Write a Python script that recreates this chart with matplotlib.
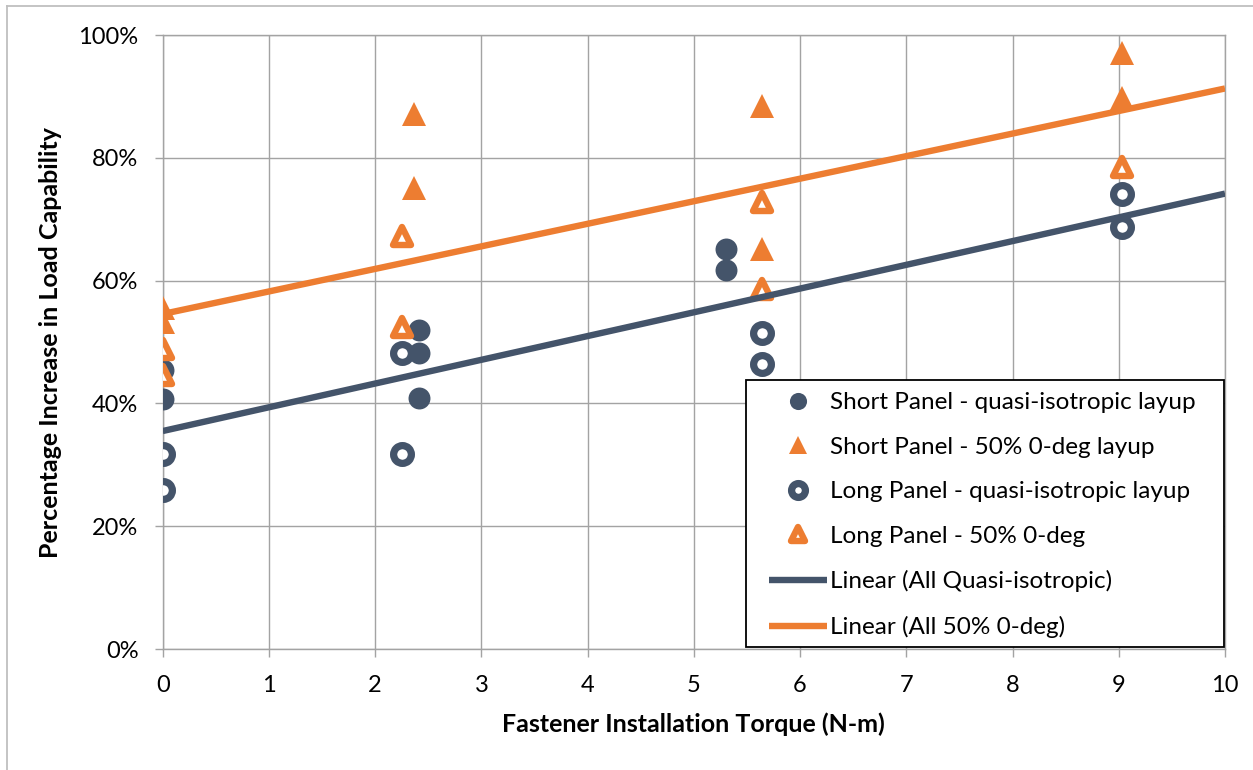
import numpy as np
import matplotlib
matplotlib.use("Agg")
import matplotlib.pyplot as plt
from matplotlib.lines import Line2D
from matplotlib.markers import MarkerStyle
from matplotlib.patches import Rectangle
from matplotlib.legend_handler import HandlerLine2D

# Measured load-capability increase (%) vs. installation torque (N-m)
short_quasi_x = [0, 0, 2.41, 2.41, 2.41, 5.30, 5.30]
short_quasi_y = [45.4, 40.7, 51.9, 48.2, 40.9, 65.2, 61.8]

short_50_x = [0, 0, 2.37, 2.37, 5.64, 5.64, 9.03, 9.03]
short_50_y = [55.6, 53.3, 87.2, 75.0, 88.4, 65.1, 97.1, 89.8]

long_quasi_x = [0, 0, 2.25, 2.25, 5.64, 5.64, 9.03, 9.03]
long_quasi_y = [31.7, 25.9, 48.2, 31.7, 51.4, 46.4, 74.1, 68.8]

long_50_x = [0, 0, 2.25, 2.25, 5.64, 5.64, 9.03]
long_50_y = [48.9, 44.6, 67.3, 52.5, 72.8, 58.6, 78.5]

x_ticks = list(range(0, 11))
y_ticks = [0, 20, 40, 60, 80, 100]

NAVY = "#44546A"
ORANGE = "#ED7D31"
GRID = "#A3A3A3"

plt.rcParams["font.family"] = ["Lato", "DejaVu Sans"]

W, H = 1253, 770
fig = plt.figure(figsize=(W / 100, H / 100), dpi=100)
fig.patch.set_facecolor("white")

ax = fig.add_axes([162.7 / W, 1 - 649 / H, (1225 - 162.7) / W, (649 - 35) / H])

# scatter series
ax.plot(short_quasi_x, short_quasi_y, linestyle="none", marker="o", ms=15.8,
        mfc=NAVY, mec=NAVY, mew=0, zorder=3,
        label="Short Panel - quasi-isotropic layup")
ax.plot(short_50_x, short_50_y, linestyle="none", marker="^", ms=17.3,
        mfc=ORANGE, mec=ORANGE, mew=0, zorder=3,
        label="Short Panel - 50% 0-deg layup")
ax.plot(long_quasi_x, long_quasi_y, linestyle="none", marker="o", ms=12.8,
        mfc="white", mec=NAVY, mew=5.2, zorder=3,
        label="Long Panel - quasi-isotropic layup")
ax.plot(long_50_x, long_50_y, linestyle="none",
        marker=MarkerStyle("^", joinstyle="round"), ms=12.6,
        mfc="white", mec=ORANGE, mew=4.6, zorder=3,
        label="Long Panel - 50% 0-deg")

# linear trend lines over each layup family
quasi_x = np.array(short_quasi_x + long_quasi_x, dtype=float)
quasi_y = np.array(short_quasi_y + long_quasi_y, dtype=float)
zero_x = np.array(short_50_x + long_50_x, dtype=float)
zero_y = np.array(short_50_y + long_50_y, dtype=float)

xs = np.array([0.0, 10.0])
kq = np.polyfit(quasi_x, quasi_y, 1)
kz = np.polyfit(zero_x, zero_y, 1)
ax.plot(xs, np.polyval(kq, xs), color=NAVY, lw=4.6, solid_capstyle="butt",
        zorder=4, label="Linear (All Quasi-isotropic)")
ax.plot(xs, np.polyval(kz, xs), color=ORANGE, lw=4.6, solid_capstyle="butt",
        zorder=4, label="Linear (All 50% 0-deg)")

ax.set_xlim(0, 10)
ax.set_ylim(0, 100)
ax.set_xticks(x_ticks)
ax.set_yticks(y_ticks)
ax.set_yticklabels([f"{v}%" for v in y_ticks])
ax.grid(True, color=GRID, lw=1.0, zorder=0)
ax.set_axisbelow(True)
for s in ax.spines.values():
    s.set_color(GRID)
    s.set_linewidth(1.0)
ax.tick_params(axis="both", direction="out", length=5.5, width=1.0, color=GRID,
               labelsize=17, labelcolor="black")
ax.tick_params(axis="y", pad=12)
ax.tick_params(axis="x", pad=13)

ax.set_xlabel("Fastener Installation Torque (N-m)", fontsize=18,
              fontweight="bold", labelpad=12)
ax.set_ylabel("Percentage Increase in Load Capability", fontsize=18,
              fontweight="bold", labelpad=12)

# legend box
box = Rectangle((746 / W, 1 - 647 / H), (1224 - 746) / W, (647 - 380) / H,
                transform=fig.transFigure, facecolor="white", edgecolor="black",
                lw=1.3, zorder=5, clip_on=False)
ax.add_patch(box)


class TrendHandler(HandlerLine2D):
    def get_xdata(self, legend, xdescent, ydescent, width, height, fontsize):
        return [-xdescent, -xdescent + width], [-xdescent + 0.5 * width]


handles, labels = ax.get_legend_handles_labels()
leg = ax.legend(handles, labels, loc="upper left",
                bbox_to_anchor=(769 / W, 1 - 392 / H),
                bbox_transform=fig.transFigure, frameon=False,
                fontsize=17.5, borderpad=0, borderaxespad=0,
                handlelength=2.39, handletextpad=0.12, labelspacing=0.97,
                markerscale=0.78,
                handler_map={Line2D: TrendHandler()})
leg.set_zorder(6)

# outer chart border (left and top edges)
fig.add_artist(Line2D([6.5 / W, 6.5 / W], [0, 1 - 5.5 / H], transform=fig.transFigure,
                      color="#BFBFBF", lw=1.3))
fig.add_artist(Line2D([6.5 / W, 1], [1 - 5.5 / H, 1 - 5.5 / H], transform=fig.transFigure,
                      color="#BFBFBF", lw=1.3))

fig.savefig("out.png", dpi=100, facecolor="white")
